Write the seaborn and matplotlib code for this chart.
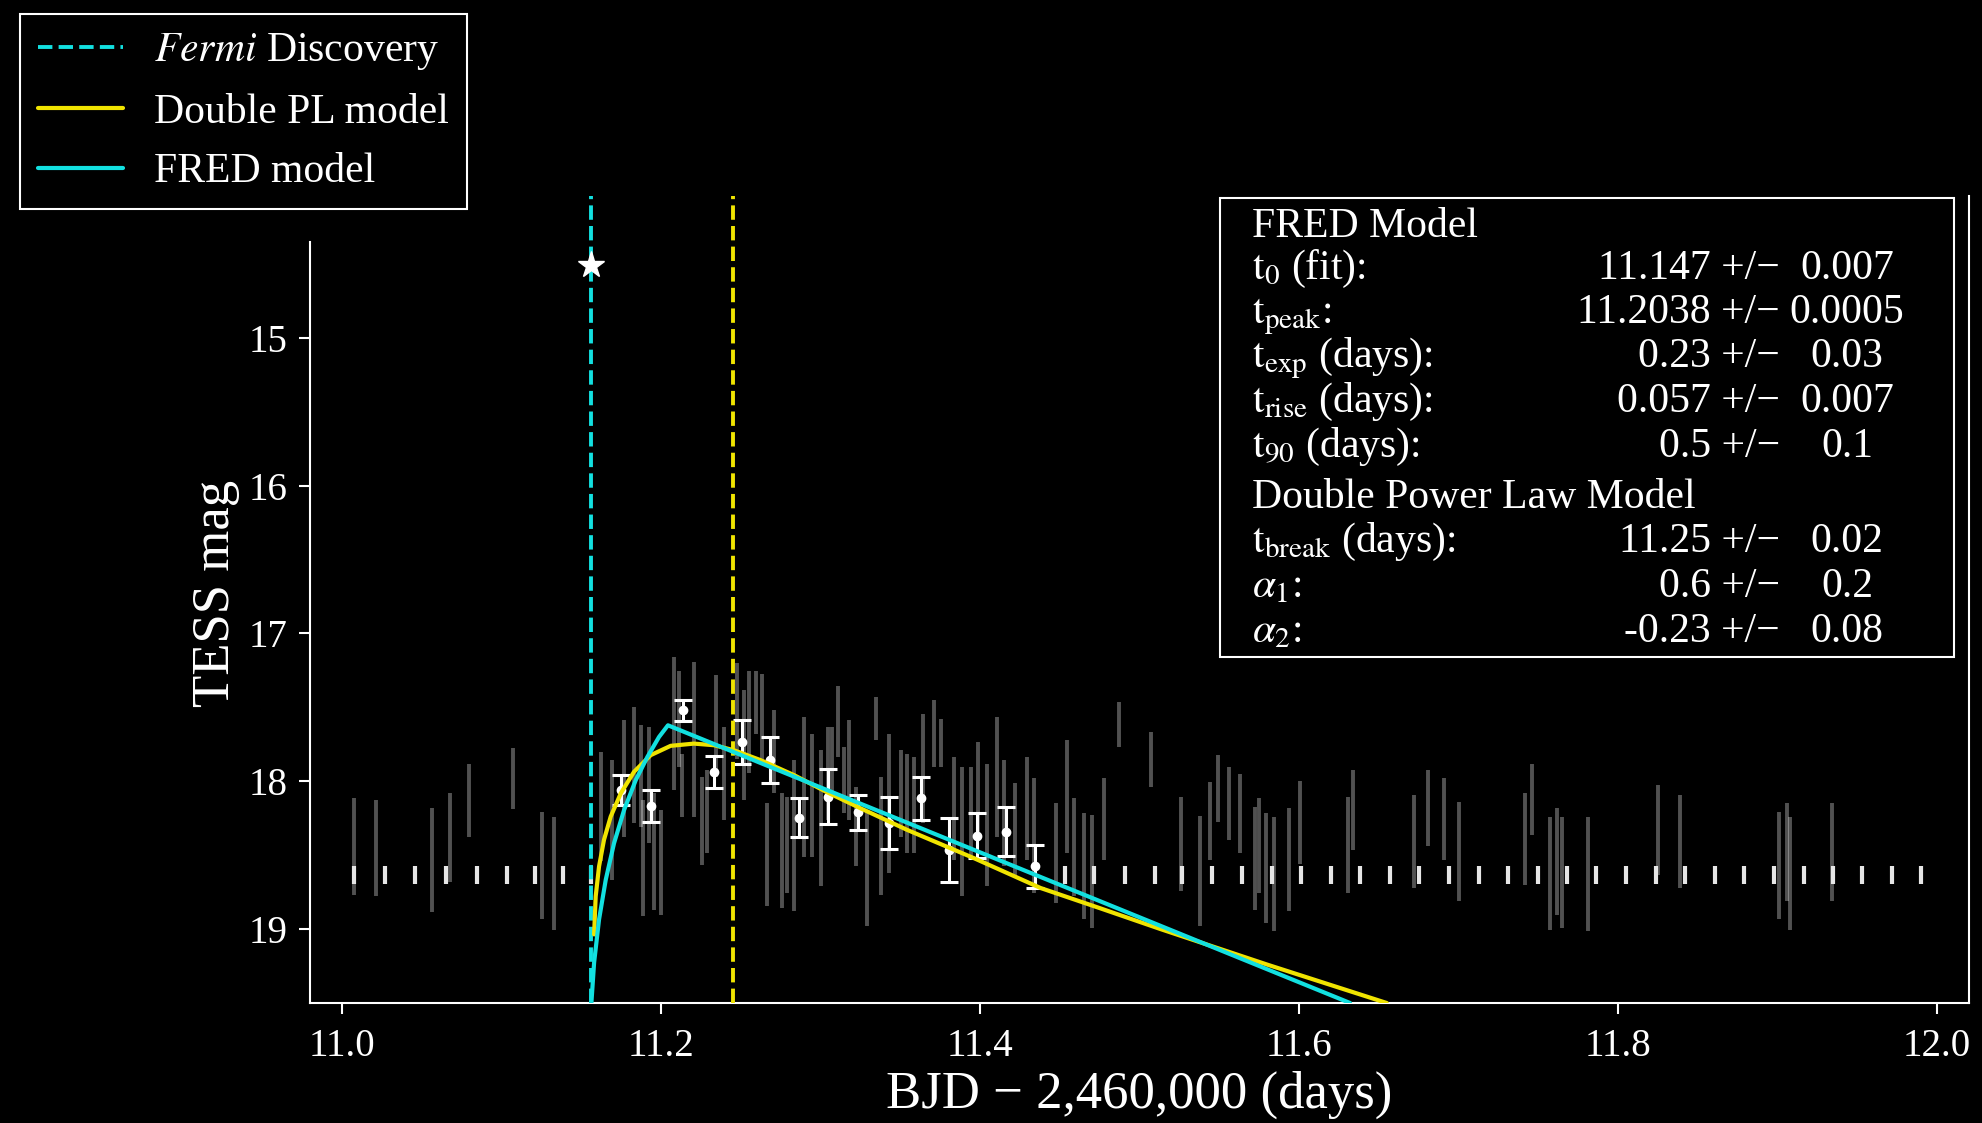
import matplotlib
matplotlib.use("Agg")
import matplotlib.pyplot as plt
import seaborn as sns
import pandas as pd
from matplotlib.patches import Rectangle

# ---- data ----
# raw TESS points (gray error bars): time, upper (bright) and lower (faint) mag
gray_t = [11.0077, 11.0213, 11.0562, 11.0679, 11.0794, 11.1074, 11.1253, 11.1331,
          11.1627, 11.1696, 11.1769, 11.1832, 11.1878, 11.1890, 11.1926, 11.1957,
          11.1999, 11.2082, 11.2114, 11.2135, 11.2208, 11.2260, 11.2291, 11.2343,
          11.2396, 11.2475,
          11.2521, 11.2552, 11.2594, 11.2636, 11.2667, 11.2709, 11.2761, 11.2792,
          11.2834, 11.2897, 11.2949, 11.3001, 11.3047, 11.3074, 11.3110, 11.3147,
          11.3179, 11.3221, 11.3289, 11.3346, 11.3377, 11.3429, 11.3502, 11.3544,
          11.3586, 11.3645, 11.3711, 11.3757, 11.3837, 11.3889, 11.3941, 11.3987,
          11.4045, 11.4104, 11.4150, 11.4217, 11.4296, 11.4338, 11.4474, 11.4547,
          11.4589, 11.4651, 11.4703, 11.4777, 11.4870, 11.5069,
          11.5262, 11.5378, 11.5445, 11.5491, 11.5560, 11.5633, 11.5727, 11.5748,
          11.5796, 11.5842, 11.5936, 11.6005, 11.6306, 11.6339, 11.6719, 11.6809,
          11.6907, 11.7001, 11.7415, 11.7461, 11.7576, 11.7617, 11.7649,
          11.7809, 11.8248, 11.8386, 11.9012, 11.9058, 11.9079, 11.9340]
gray_top = [18.115, 18.127, 18.183, 18.077, 17.884, 17.772, 18.205, 18.239,
            17.801, 17.857, 17.588, 17.498, 17.621, 18.127, 17.633, 18.082,
            18.194, 17.161, 17.251, 17.812, 17.195, 17.969, 17.925, 17.284,
            17.633, 17.200,
            17.385, 17.251, 17.251, 17.273, 18.149, 17.520, 18.082, 18.104,
            17.857, 17.565, 17.677, 17.790, 17.633, 17.633, 17.352, 17.767,
            17.588, 18.037, 18.194, 17.430, 17.969, 17.677, 17.790, 17.812,
            17.835, 17.543, 17.453, 17.576, 17.835, 17.902, 17.902, 17.734,
            17.880, 17.565, 17.857, 18.014, 17.835, 17.981, 18.149, 17.722,
            18.115, 18.217, 18.228, 17.981, 17.464, 17.666,
            18.109, 18.235, 18.003, 17.823, 17.902, 17.954, 18.172, 18.115,
            18.217, 18.239, 18.183, 17.996, 18.104, 17.925, 18.093, 17.925,
            17.981, 18.138, 18.082, 17.880, 18.239, 18.183, 18.239,
            18.239, 18.026, 18.093, 18.205, 18.149, 18.239, 18.149]
gray_bot = [18.767, 18.778, 18.886, 18.684, 18.374, 18.190, 18.931, 19.003,
            18.542, 18.666, 18.374, 18.284, 18.306, 18.913, 18.419, 18.868,
            18.902, 18.059, 17.902, 18.239, 18.239, 18.565, 18.486, 17.969,
            18.262, 17.850,
            18.127, 17.947, 17.677, 17.857, 18.845, 18.082, 18.857, 18.756,
            18.879, 18.509, 18.509, 18.711, 18.262, 18.082, 17.835, 18.217,
            18.262, 18.576, 18.980, 17.722, 18.767, 18.621, 18.374, 18.486,
            18.486, 18.284, 17.902, 17.902, 18.531, 18.778, 18.531, 18.374,
            18.711, 18.374, 18.576, 18.643, 18.531, 18.756, 18.823, 18.486,
            18.778, 18.935, 18.992, 18.531, 17.767, 18.037,
            18.744, 18.980, 18.531, 18.273, 18.396, 18.486, 18.868, 18.756,
            18.958, 19.014, 18.879, 18.558, 18.756, 18.464, 18.722, 18.441,
            18.531, 18.812, 18.699, 18.363, 19.003, 18.902, 18.992,
            19.014, 18.632, 18.722, 18.935, 18.812, 19.003, 18.812]

# binned detections (white)
det_t = [11.1748, 11.1936, 11.2141, 11.2333, 11.2510, 11.2684, 11.2865, 11.3048,
         11.3236, 11.3429, 11.3628, 11.3805, 11.3979, 11.4160, 11.4348]
det_mag = [18.059, 18.167, 17.520, 17.936, 17.734, 17.857, 18.245, 18.104,
           18.211, 18.281, 18.116, 18.464, 18.369, 18.340, 18.576]
det_err = [0.104, 0.107, 0.070, 0.107, 0.146, 0.155, 0.130, 0.187,
           0.120, 0.178, 0.144, 0.218, 0.152, 0.163, 0.146]

# binned non-detections (white ticks)
ul_t = [11.0077, 11.0272, 11.0457, 11.0652, 11.0850, 11.1038, 11.1209, 11.1387, 11.1564,
        11.4530, 11.4714, 11.4912, 11.5100,
        11.5268, 11.5456, 11.5644, 11.5832, 11.6013, 11.6201, 11.6385, 11.6569,
        11.6753, 11.6941, 11.7127, 11.7310, 11.7496, 11.7680,
        11.7864, 11.8052, 11.8237, 11.8421, 11.8605, 11.8791, 11.8979, 11.9163,
        11.9346, 11.9532, 11.9716, 11.9900]
ul_mag = 18.637

# model curves
fred_t = [11.1564, 11.1581, 11.1612, 11.1654, 11.1706, 11.1769, 11.1842, 11.1915,
          11.1988, 11.2044, 11.6320]
fred_mag = [19.50, 19.227, 18.935, 18.666, 18.419, 18.194, 17.992, 17.835,
            17.700, 17.621, 19.50]
dpl_t = [11.1581, 11.1591, 11.1612, 11.1643, 11.1685, 11.1748, 11.1831, 11.1936,
         11.2061, 11.2207, 11.2333, 11.2458, 11.2625, 11.2834, 11.3043, 11.3252,
         11.3544, 11.3962, 11.4380, 11.4756, 11.5132, 11.5800, 11.6550]
dpl_mag = [19.036, 18.778, 18.576, 18.396, 18.239, 18.082, 17.936, 17.823,
           17.760, 17.745, 17.756, 17.790, 17.857, 17.958, 18.075, 18.183,
           18.329, 18.520, 18.722, 18.860, 19.000, 19.240, 19.500]

fermi_t = 11.156
star_mag = 14.51
break_t = 11.2454

xticks = [11.0, 11.2, 11.4, 11.6, 11.8, 12.0]
yticks = [15, 16, 17, 18, 19]

box_labels = [r"$\mathrm{t}_{0}$ (fit):", r"$\mathrm{t}_{\mathrm{peak}}$:",
              r"$\mathrm{t}_{\mathrm{exp}}$ (days):", r"$\mathrm{t}_{\mathrm{rise}}$ (days):",
              r"$\mathrm{t}_{90}$ (days):",
              r"$\mathrm{t}_{\mathrm{break}}$ (days):", r"$\alpha_1$:", r"$\alpha_2$:"]
box_values = ["11.147", "11.2038", "0.23", "0.057", "0.5", "11.25", "0.6", "-0.23"]
box_errors = ["0.007", "0.0005", "0.03", "0.007", "0.1", "0.02", "0.2", "0.08"]

# ---- style ----
sns.set_theme(style="dark", rc={
    "figure.facecolor": "black", "axes.facecolor": "black",
    "axes.edgecolor": "white", "text.color": "white",
    "axes.labelcolor": "white", "xtick.color": "white", "ytick.color": "white",
})
plt.rcParams["font.family"] = ["Liberation Serif", "DejaVu Serif"]
plt.rcParams["mathtext.fontset"] = "stix"

CYAN = "#12e0e0"
YELLOW = "#f0e400"
W, H = 1983, 1123


def fx(px):
    return px / W


def fy(py):
    return 1 - py / H


fig = plt.figure(figsize=(W / 100, H / 100), dpi=100)
ax = fig.add_axes([fx(310), fy(1003), (1969 - 310) / W, (1003 - 196) / H])

ax.vlines(gray_t, gray_top, gray_bot, colors="white", alpha=0.32, lw=2.8, zorder=1)
ax.plot(ul_t, [ul_mag] * len(ul_t), ls="none", marker="|", ms=13, mew=3,
        color="#e6e6e6", zorder=2)
ax.errorbar(det_t, det_mag, yerr=det_err, fmt="o", ms=6, color="white",
            ecolor="white", elinewidth=2.2, capsize=6.5, capthick=2.2, zorder=3)

l_fermi = ax.axvline(fermi_t, color=CYAN, ls="--", lw=2.8, zorder=4)
ax.axvline(break_t, color=YELLOW, ls="--", lw=2.8, zorder=4)

dpl = pd.DataFrame({"t": dpl_t, "mag": dpl_mag})
fred = pd.DataFrame({"t": fred_t, "mag": fred_mag})
sns.lineplot(data=dpl, x="t", y="mag", color=YELLOW, lw=3, sort=False,
             estimator=None, ax=ax, zorder=5)
sns.lineplot(data=fred, x="t", y="mag", color=CYAN, lw=3, sort=False,
             estimator=None, ax=ax, zorder=6)
l_dpl, l_fred = ax.lines[-2], ax.lines[-1]

ax.plot([fermi_t], [star_mag], marker="*", ms=20, color="white", ls="none", zorder=7)

ax.set_xlim(10.98, 12.02)
ax.set_ylim(19.5, 14.04)
ax.set_xticks(xticks)
ax.set_xticklabels([f"{v:.1f}" for v in xticks])
ax.set_yticks(yticks)
ax.tick_params(axis="both", direction="out", length=8, width=1.5, labelsize=28,
               bottom=True, left=True)
ax.tick_params(axis="x", pad=10)
ax.tick_params(axis="y", pad=8)
ax.grid(False)

ax.spines["top"].set_visible(False)
for s in ["left", "right", "bottom"]:
    ax.spines[s].set_color("white")
    ax.spines[s].set_linewidth(1.5)
ax.spines["left"].set_bounds(19.5, 14.35)

ax.set_xlabel("BJD \u2212 2,460,000 (days)", fontsize=38)
ax.set_ylabel("TESS mag", fontsize=38)
ax.xaxis.label.set_va("center")
ax.yaxis.label.set_va("center")
ax.xaxis.set_label_coords(0.5, -0.114)
ax.yaxis.set_label_coords(-0.0567, 0.508)

leg = fig.legend([l_fermi, l_dpl, l_fred],
                 [r"$\mathit{Fermi}$ Discovery", "Double PL model", "FRED model"],
                 loc="upper left", bbox_to_anchor=(fx(20), fy(14)),
                 bbox_transform=fig.transFigure, frameon=True, fancybox=False,
                 edgecolor="white", facecolor="black", framealpha=1, fontsize=30,
                 handlelength=2.05, handletextpad=0.75, borderpad=0.42,
                 labelspacing=0.5, borderaxespad=0)
leg.get_frame().set_linewidth(1.5)
for t in leg.get_texts():
    t.set_color("white")

# parameter box
fig.add_artist(Rectangle((fx(1220), fy(657)), (1954 - 1220) / W, (657 - 198) / H,
                         transform=fig.transFigure, facecolor="black",
                         edgecolor="white", lw=1.5, zorder=8))
fs = 30
fig.text(fx(1252), fy(237), "FRED Model", fontsize=fs, va="baseline", zorder=9)
fig.text(fx(1252), fy(508), "Double Power Law Model", fontsize=fs, va="baseline", zorder=9)
row_y = [279, 323, 367, 412, 457, 552, 597, 642]
for lab, val, err, yy in zip(box_labels, box_values, box_errors, row_y):
    fig.text(fx(1252), fy(yy), lab, fontsize=fs, va="baseline", zorder=9)
    fig.text(fx(1780), fy(yy), f"{val} +/\u2212", fontsize=fs, va="baseline",
             ha="right", zorder=9)
    fig.text(fx(1847), fy(yy), err, fontsize=fs, va="baseline", ha="center", zorder=9)

fig.savefig("out.png", dpi=100, facecolor="black")
